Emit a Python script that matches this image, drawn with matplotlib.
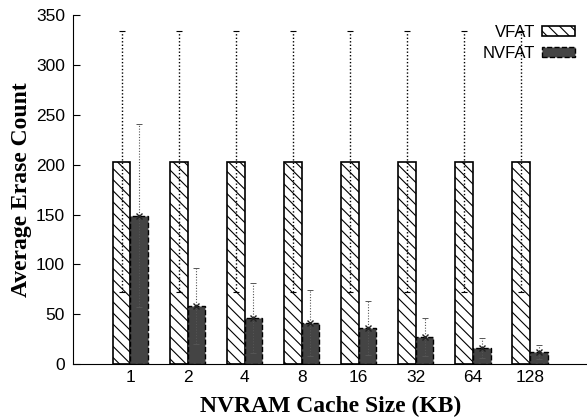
import matplotlib
matplotlib.use('Agg')
import matplotlib.pyplot as plt
import numpy as np

# Data
cache_sizes = ['1', '2', '4', '8', '16', '32', '64', '128']
vfat_mean = [203, 203, 203, 203, 203, 203, 203, 203]
vfat_err = [131, 131, 131, 131, 131, 131, 131, 131]
nvfat_mean = [149, 58, 46, 41, 36, 27, 16, 12]
nvfat_err = [92, 38, 35, 33, 27, 19, 10, 7]

plt.rcParams['hatch.linewidth'] = 0.8

fig = plt.figure(figsize=(5.87, 4.2), dpi=100)
ax = fig.add_axes([0.125, 0.133, 0.875, 0.831])

x = np.arange(len(cache_sizes))
w = 0.31

ax.bar(x - w / 2, vfat_mean, w, color='white', edgecolor='black',
       hatch='\\\\\\', linewidth=1.2, label='VFAT', zorder=2)
ax.bar(x + w / 2, nvfat_mean, w, color='#444444', edgecolor='black',
       linestyle='--', linewidth=1.0, label='NVFAT', zorder=2)

# dotted error bars
eb1 = ax.errorbar(x - w / 2, vfat_mean, yerr=vfat_err, fmt='none',
                  ecolor='black', elinewidth=1.0, capsize=2.5, capthick=0.8,
                  zorder=3)
eb1[2][0].set_linestyle((0, (1, 1.5)))
eb2 = ax.errorbar(x + w / 2, nvfat_mean, yerr=nvfat_err, fmt='x',
                  color='#222222', markersize=4, ecolor='#555555',
                  elinewidth=0.8, capsize=2.5, capthick=0.7, zorder=3)
eb2[2][0].set_linestyle((0, (1, 1.5)))

ax.set_xlim(-1, 8)
ax.set_ylim(0, 350)
ax.set_xticks(x)
ax.set_xticklabels(cache_sizes)
ax.set_yticks(np.arange(0, 351, 50))
ax.tick_params(axis='y', direction='in', length=5, labelsize=12.5, pad=6)
ax.tick_params(axis='x', length=0, labelsize=12.5, pad=4)
for lab in ax.get_xticklabels() + ax.get_yticklabels():
    lab.set_family('Liberation Sans')

ax.spines['top'].set_visible(False)
ax.spines['right'].set_visible(False)

ax.set_xlabel('NVRAM Cache Size (KB)', family='Liberation Serif',
              fontweight='bold', fontsize=17, labelpad=8)
ax.set_ylabel('Average Erase Count', family='Liberation Serif',
              fontweight='bold', fontsize=17, labelpad=3)

leg = ax.legend(loc='upper right', bbox_to_anchor=(1.0, 1.005),
                markerfirst=False, frameon=False, handlelength=2.0,
                handleheight=0.6, handletextpad=0.4, labelspacing=0.35,
                borderaxespad=0.3,
                prop={'family': 'Liberation Sans', 'size': 12})

fig.savefig('out.png', dpi=100)
